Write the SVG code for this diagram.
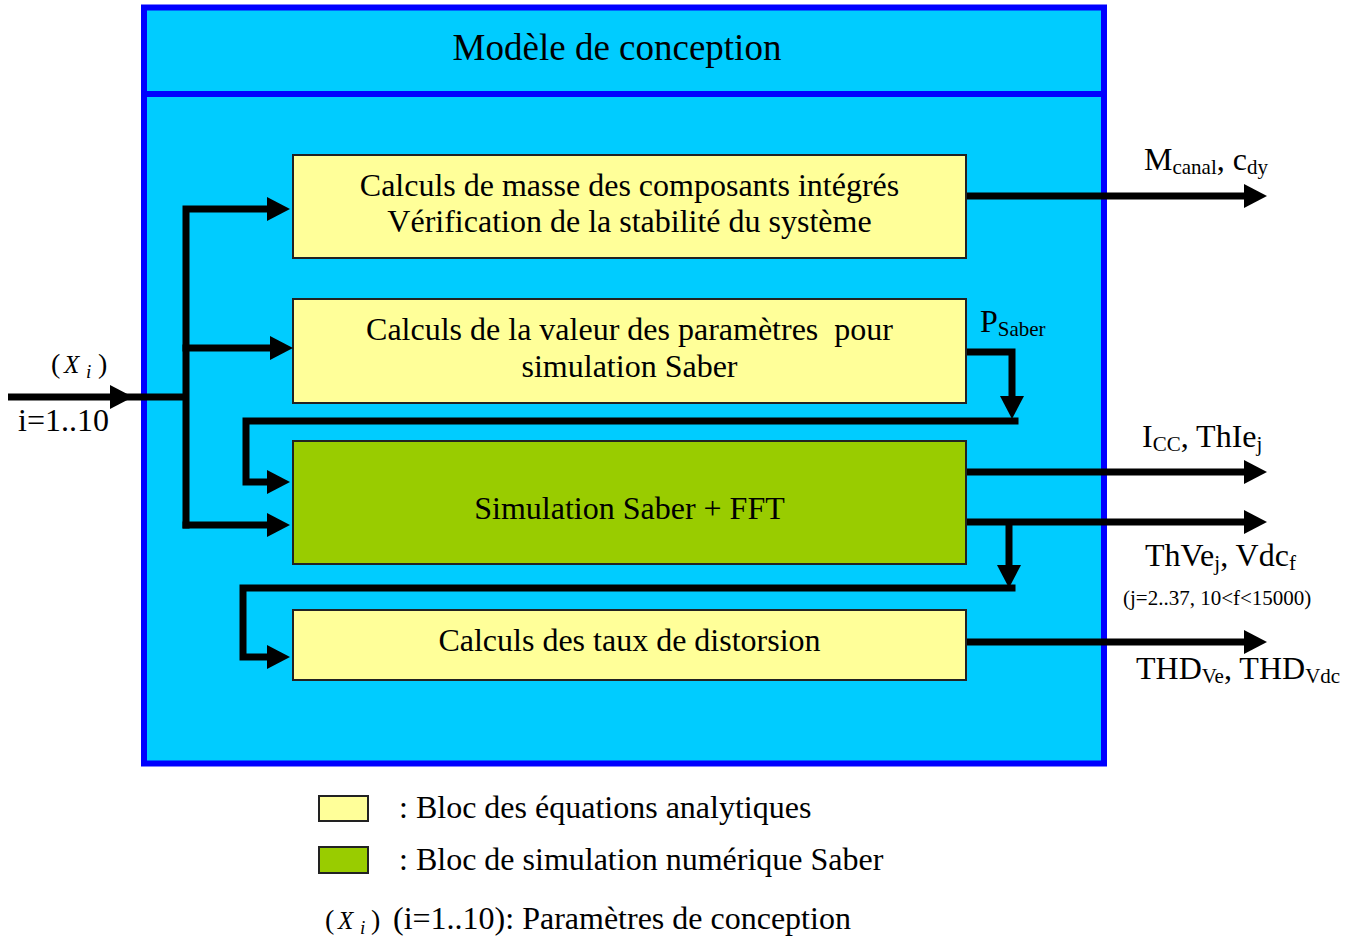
<svg xmlns="http://www.w3.org/2000/svg" width="1360" height="938" viewBox="0 0 1360 938">
<style>
.t{font-family:"Liberation Serif","Times New Roman",serif;font-size:32px;fill:#000}
.c{text-anchor:middle}
.s{font-size:21px}
.blk{stroke:#222;stroke-width:2}
.y{fill:#FFFF99}
.g{fill:#99CC00}
.ln{fill:none;stroke:#000;stroke-width:7;stroke-linejoin:miter;stroke-linecap:square}
.b{stroke-linecap:butt}
.it{font-style:italic}
</style>
<defs>
<marker id="ah" markerUnits="userSpaceOnUse" markerWidth="24" markerHeight="24" refX="0" refY="12" orient="auto">
<path d="M0,0 L23,12 L0,24 Z" fill="#000"/>
</marker>
</defs>
<g id="container">
<rect x="144" y="7.5" width="960" height="756" fill="#00CCFF" stroke="#0000FF" stroke-width="6"/>
<line x1="144" y1="94" x2="1104" y2="94" stroke="#0000FF" stroke-width="6"/>
<text class="t c" x="617" y="60" style="font-size:37px">Modèle de conception</text>
</g>
<g id="block-masse">
<rect class="blk y" x="293" y="155" width="673" height="103"/>
<text class="t c" x="629.5" y="196">Calculs de masse des composants intégrés</text>
<text class="t c" x="629.5" y="232">Vérification de la stabilité du système</text>
</g>
<g id="block-parametres">
<rect class="blk y" x="293" y="299" width="673" height="104"/>
<text class="t c" x="629.5" y="340" xml:space="preserve">Calculs de la valeur des paramètres  pour</text>
<text class="t c" x="629.5" y="377">simulation Saber</text>
</g>
<g id="block-simulation">
<rect class="blk g" x="293" y="441" width="673" height="123"/>
<text class="t c" x="629.5" y="519">Simulation Saber + FFT</text>
</g>
<g id="block-distorsion">
<rect class="blk y" x="293" y="610" width="673" height="70"/>
<text class="t c" x="629.5" y="651">Calculs des taux de distorsion</text>
</g>
<g id="connectors">
<path class="ln b" d="M8,397 H189"/>
<polygon points="110,385 133,397 110,409" fill="#000"/>
<path class="ln" d="M186,525 V209 H267" marker-end="url(#ah)"/>
<path class="ln" d="M186,525 H267" marker-end="url(#ah)"/>
<path class="ln" d="M186,348 H270" marker-end="url(#ah)"/>
<path class="ln b" d="M967,196 H1244" marker-end="url(#ah)"/>
<path class="ln b" d="M967,352 H1012 V396" marker-end="url(#ah)"/>
<path class="ln" d="M1015,421 H246 V482 H267" marker-end="url(#ah)"/>
<path class="ln b" d="M967,472 H1244" marker-end="url(#ah)"/>
<path class="ln b" d="M967,522 H1244" marker-end="url(#ah)"/>
<path class="ln b" d="M1009,522 V565" marker-end="url(#ah)"/>
<path class="ln" d="M1012,588 H243 V657 H267" marker-end="url(#ah)"/>
<path class="ln b" d="M967,642 H1244" marker-end="url(#ah)"/>
</g>
<g id="labels">
<text class="t" x="51" y="373" style="font-size:28px">(<tspan class="it" x="64" style="font-size:25px">X</tspan><tspan class="it" x="86" dy="5" style="font-size:19px">i</tspan><tspan x="98" dy="-5">)</tspan></text>
<text class="t" x="18" y="431">i=1..10</text>
<text class="t" x="1144" y="170">M<tspan class="s" dy="4">canal</tspan><tspan dy="-4">, c</tspan><tspan class="s" dy="4">dy</tspan></text>
<text class="t" x="980" y="332">P<tspan class="s" dy="4">Saber</tspan></text>
<text class="t" x="1142" y="447">I<tspan class="s" dy="4">CC</tspan><tspan dy="-4">, ThIe</tspan><tspan class="s" dy="4">j</tspan></text>
<text class="t" x="1145" y="566">ThVe<tspan class="s" dy="4">j</tspan><tspan dy="-4">, Vdc</tspan><tspan class="s" dy="4">f</tspan></text>
<text class="t" x="1123" y="605" style="font-size:21px">(j=2..37, 10&lt;f&lt;15000)</text>
<text class="t" x="1136" y="679">THD<tspan class="s" dy="4">Ve</tspan><tspan dy="-4">, THD</tspan><tspan class="s" dy="4">Vdc</tspan></text>
</g>
<g id="legend">
<rect class="blk y" x="319" y="796" width="49" height="25"/>
<text class="t" x="399" y="818">: Bloc des équations analytiques</text>
<rect class="blk g" x="319" y="847" width="49" height="26"/>
<text class="t" x="399" y="870">: Bloc de simulation numérique Saber</text>
<text class="t" x="325" y="929" style="font-size:28px">(<tspan class="it" x="338" style="font-size:25px">X</tspan><tspan class="it" x="360" dy="5" style="font-size:19px">i</tspan><tspan x="371" dy="-5">)</tspan></text>
<text class="t" x="393" y="929">(i=1..10): Paramètres de conception</text>
</g>
</svg>
